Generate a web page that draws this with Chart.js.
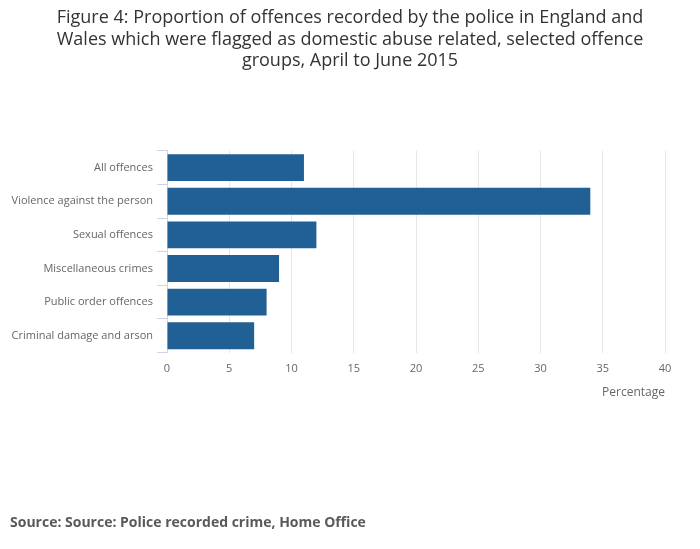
<!DOCTYPE html>
<html>
<head>
<meta charset="utf-8">
<script src="https://cdn.jsdelivr.net/npm/chart.js@4/dist/chart.umd.min.js"></script>
<style>
  html, body { margin: 0; padding: 0; background: #ffffff; }
  #wrap { width: 700px; height: 549px; }
</style>
</head>
<body>
<div id="wrap"><canvas id="myChart" width="700" height="549"></canvas></div>
<script>
const categories = [
    "All offences",
    "Violence against the person",
    "Sexual offences",
    "Miscellaneous crimes",
    "Public order offences",
    "Criminal damage and arson"
];
const percentages = [11, 34, 12, 9, 8, 7];
const xTicks = [0, 5, 10, 15, 20, 25, 30, 35, 40];

const titleLines = [
    "Figure 4: Proportion of offences recorded by the police in England and",
    "Wales which were flagged as domestic abuse related, selected offence",
    "groups, April to June 2015"
];
const sourceText = "Source: Source: Police recorded crime, Home Office";

Chart.defaults.font.family = "'Open Sans', sans-serif";

const ctx = document.getElementById('myChart').getContext('2d');

const myChart = new Chart(ctx, {
    type: 'bar',
    data: {
        labels: categories,
        datasets: [{
            label: 'Percentage',
            data: percentages,
            backgroundColor: '#206095',
            borderWidth: 0,
            barPercentage: 0.8,
            categoryPercentage: 1.0
        }]
    },
    options: {
        indexAxis: 'y',
        responsive: false,
        animation: false,
        layout: {
            padding: { left: 10, right: 10, top: 0, bottom: 9 }
        },
        plugins: {
            legend: { display: false },
            tooltip: { enabled: false },
            title: {
                display: true,
                text: titleLines,
                color: '#333333',
                font: { size: 18, weight: 'normal' },
                padding: { top: 7, bottom: 79 }
            },
            subtitle: {
                display: true,
                text: sourceText,
                position: 'bottom',
                align: 'start',
                color: '#595959',
                font: { size: 14, weight: 'bold' },
                padding: { top: 114, bottom: 9 }
            }
        },
        scales: {
            x: {
                min: 0,
                max: 40,
                afterBuildTicks: function(scale) {
                    scale.ticks = xTicks.map(v => ({ value: v }));
                },
                grid: {
                    color: '#e6e6e6',
                    drawTicks: false
                },
                border: { display: false },
                ticks: {
                    color: '#666666',
                    font: { size: 11 },
                    padding: 10
                },
                title: {
                    display: true,
                    text: 'Percentage',
                    align: 'end',
                    color: '#666666',
                    font: { size: 12 },
                    padding: { top: 0, bottom: 0 }
                }
            },
            y: {
                afterFit: function(scale) {
                    scale.width = 157;
                },
                grid: {
                    drawOnChartArea: false,
                    color: '#ccd6eb',
                    tickLength: 10
                },
                border: { display: true, color: '#ccd6eb' },
                ticks: {
                    color: '#666666',
                    font: { size: 11 },
                    padding: 4
                }
            },
            // empty spacer so the plot stops at the same right edge as the original
            yRight: {
                type: 'linear',
                position: 'right',
                afterFit: function(scale) {
                    scale.width = 25;
                },
                grid: { display: false },
                border: { display: false },
                ticks: { display: false }
            }
        }
    }
});
</script>
</body>
</html>
